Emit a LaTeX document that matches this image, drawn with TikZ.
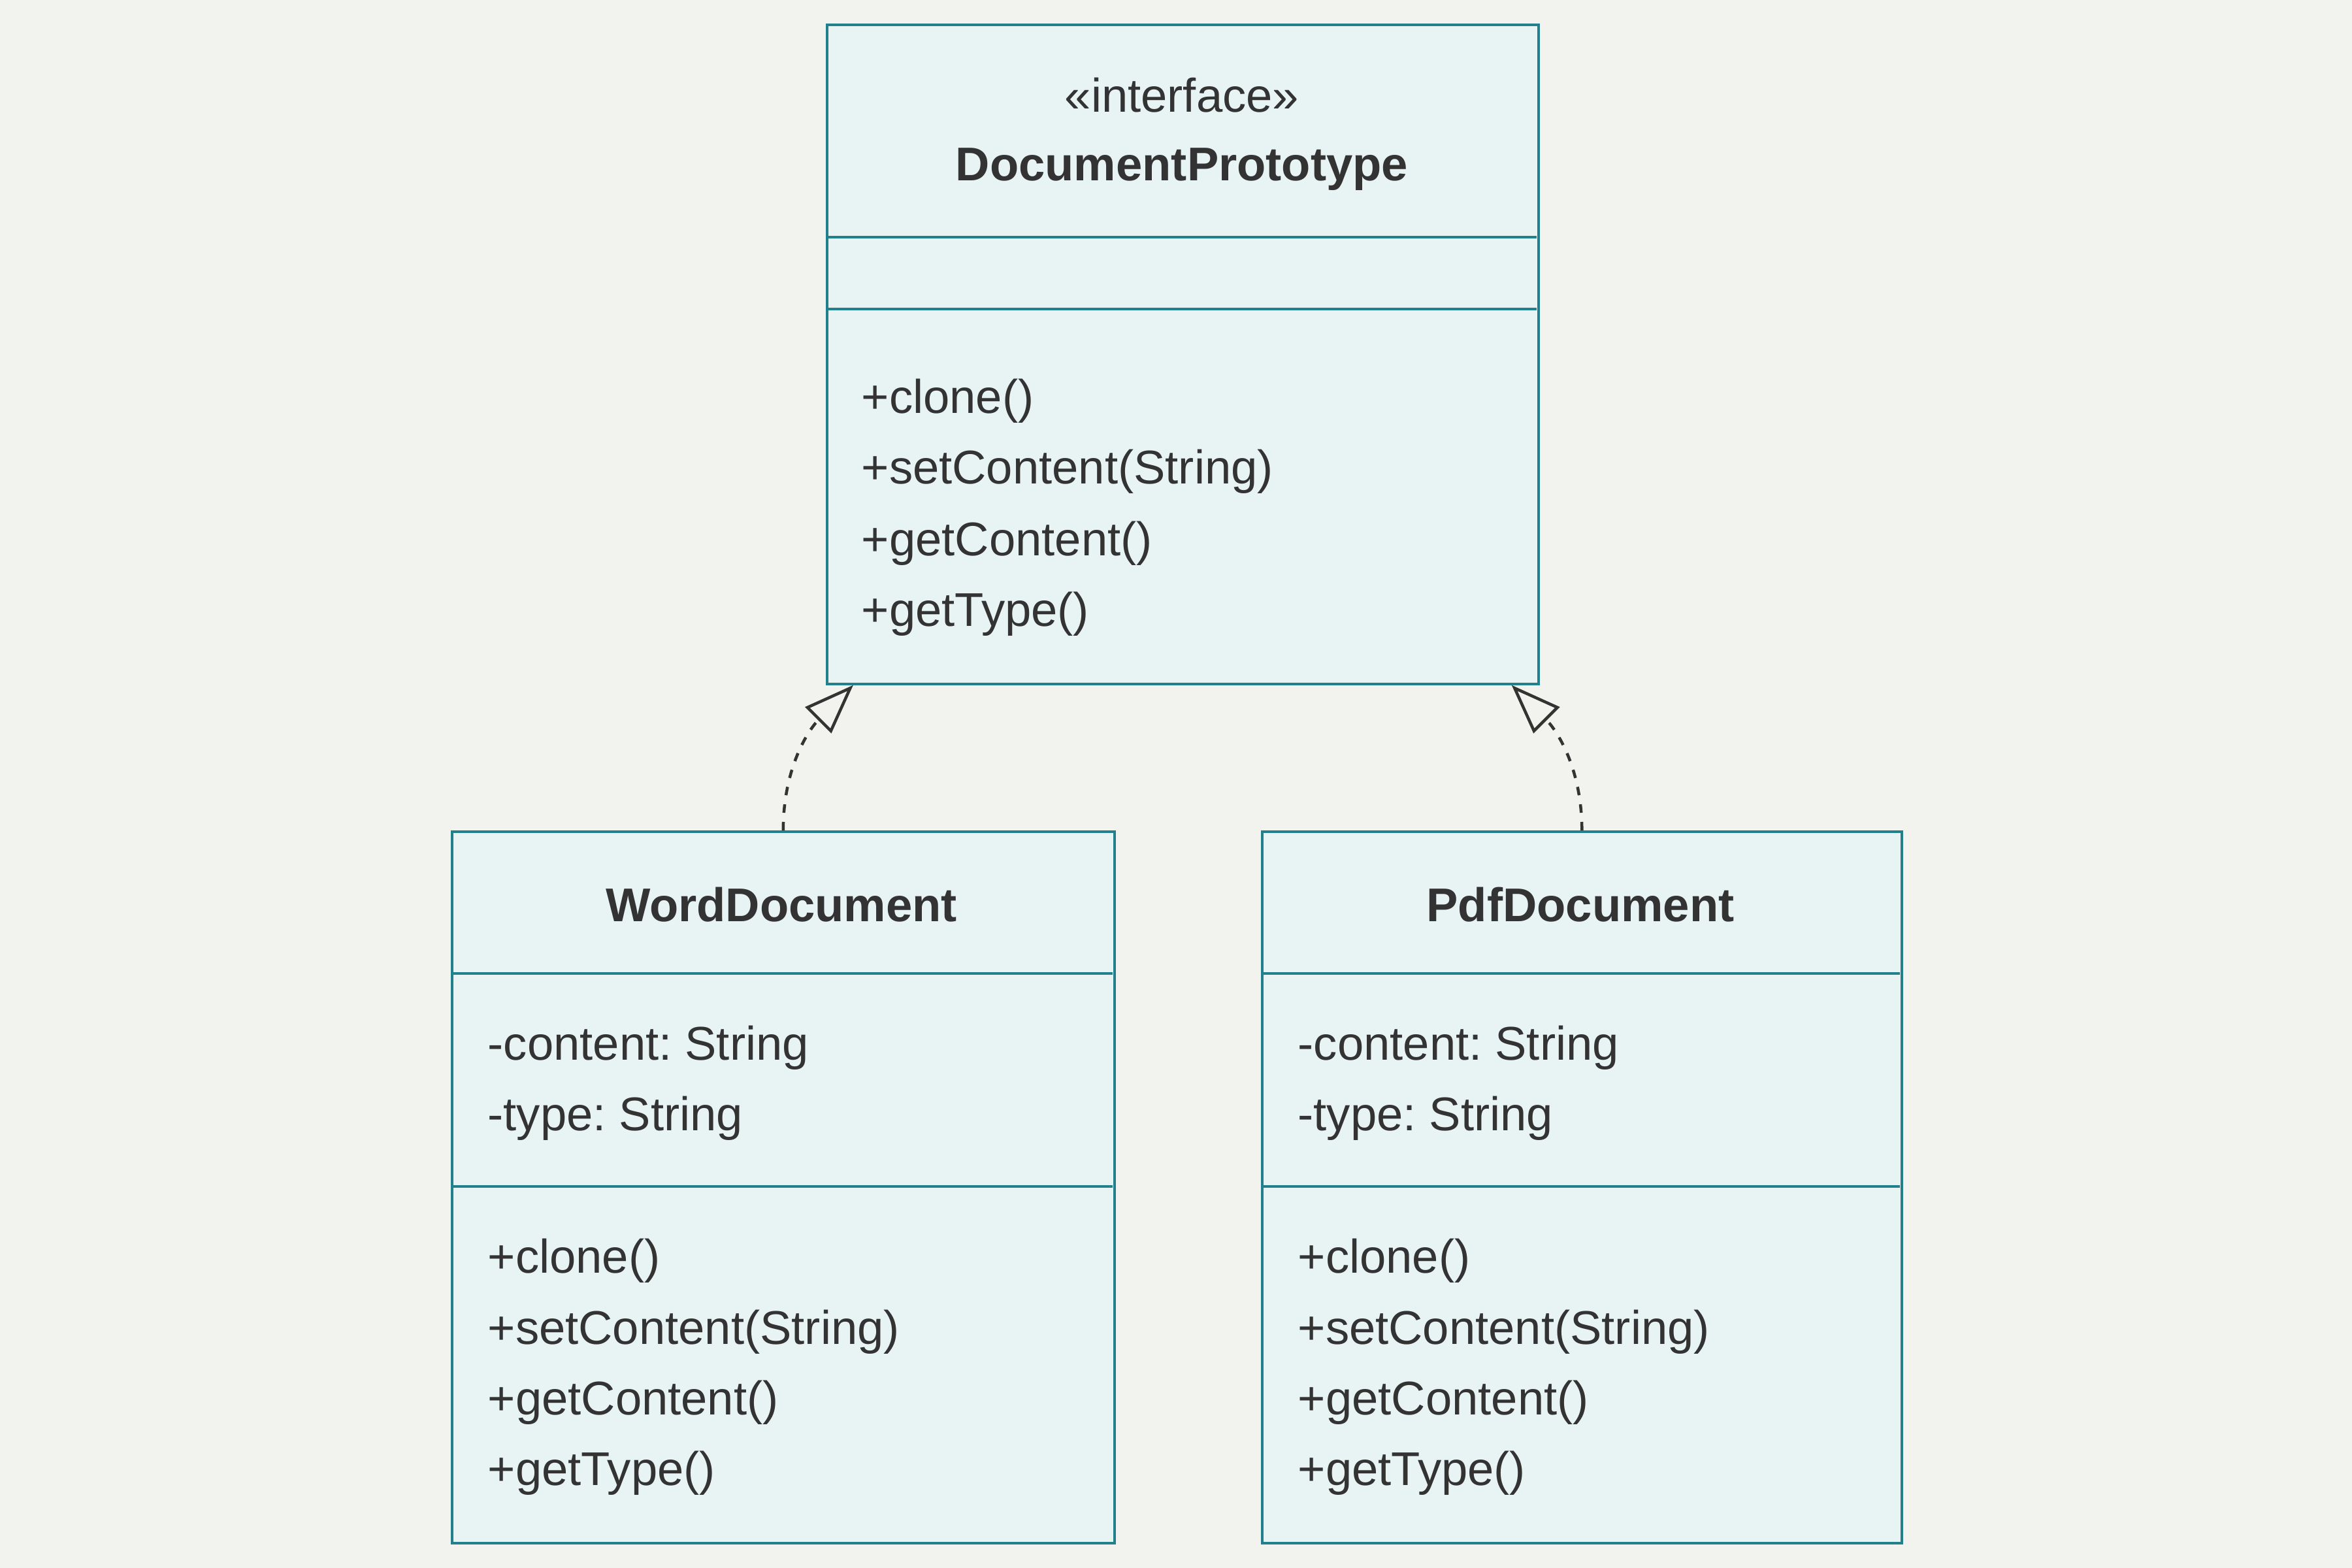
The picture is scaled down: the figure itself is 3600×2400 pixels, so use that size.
\documentclass[tikz,border=0pt]{standalone}
\usepackage{fontspec}
\setmainfont{Liberation Sans}
\frenchspacing
\usetikzlibrary{arrows.meta,calc}
\definecolor{bgc}{HTML}{F2F3EE}
\definecolor{boxfill}{HTML}{E8F4F4}
\definecolor{boxdraw}{HTML}{22808C}
\definecolor{txt}{HTML}{333333}
\tikzset{
  classbox/.style={draw=boxdraw, fill=boxfill, line width=0.04cm, anchor=north west, inner sep=0pt},
  divider/.style={draw=boxdraw, line width=0.04cm},
  member/.style={anchor=west, inner sep=0pt, text=txt, font=\fontsize{20.6pt}{24pt}\selectfont},
  title/.style={anchor=center, inner sep=0pt, text=txt, font=\fontsize{20.6pt}{24pt}\selectfont\bfseries},
  stereo/.style={anchor=center, inner sep=0pt, text=txt, font=\fontsize{20.6pt}{24pt}\selectfont},
  realize/.style={draw=txt, line width=0.045cm, dash pattern=on 0.13cm off 0.14cm,
    -{Triangle[open, length=0.76cm, width=0.56cm, line width=0.045cm]}}
}
\begin{document}
\begin{tikzpicture}[x=0.01cm, y=-0.01cm]
\fill[bgc] (0,0) rectangle (3600,2400);
\useasboundingbox (0,0) rectangle (3600,2400);

% Interface box
\node[classbox, minimum width=10.88cm, minimum height=10.08cm] (proto) at (1264,36) {};
\draw[divider] (1264,363) -- (2352,363);
\draw[divider] (1264,473) -- (2352,473);
\node[stereo] (protoStereo) at (1809,146) {«interface»};
\node[title] (protoTitle) at (1809,259) {DocumentPrototype};
\node[member] (pm1) at (1318,614) {+clone()};
\node[member] (pm2) at (1318,722) {+setContent(String)};
\node[member] (pm3) at (1318,832) {+getContent()};
\node[member] (pm4) at (1318,940) {+getType()};

% WordDocument
\node[classbox, minimum width=10.13cm, minimum height=10.88cm] (word) at (690,1271) {};
\draw[divider] (690,1490) -- (1703,1490);
\draw[divider] (690,1816) -- (1703,1816);
\node[title] (wordTitle) at (1196,1385) {WordDocument};
\node[member] (wa1) at (746,1604) {-content: String};
\node[member] (wa2) at (746,1712) {-type: String};
\node[member] (wm1) at (746,1930) {+clone()};
\node[member] (wm2) at (746,2039) {+setContent(String)};
\node[member] (wm3) at (746,2147) {+getContent()};
\node[member] (wm4) at (746,2255) {+getType()};

% PdfDocument
\node[classbox, minimum width=9.78cm, minimum height=10.88cm] (pdf) at (1930,1271) {};
\draw[divider] (1930,1490) -- (2908,1490);
\draw[divider] (1930,1816) -- (2908,1816);
\node[title] (pdfTitle) at (2419,1385) {PdfDocument};
\node[member] (pa1) at (1986,1604) {-content: String};
\node[member] (pa2) at (1986,1712) {-type: String};
\node[member] (pmm1) at (1986,1930) {+clone()};
\node[member] (pmm2) at (1986,2039) {+setContent(String)};
\node[member] (pmm3) at (1986,2147) {+getContent()};
\node[member] (pmm4) at (1986,2255) {+getType()};

% connectors
\coordinate (tipL) at ($(proto.south west)+(42,0)$);
\coordinate (tipR) at ($(proto.south east)+(-43,0)$);
\draw[realize] (word.north) to[out=90, in=-135] (tipL);
\draw[realize] (pdf.north) to[out=90, in=-45] (tipR);
\end{tikzpicture}
\end{document}
